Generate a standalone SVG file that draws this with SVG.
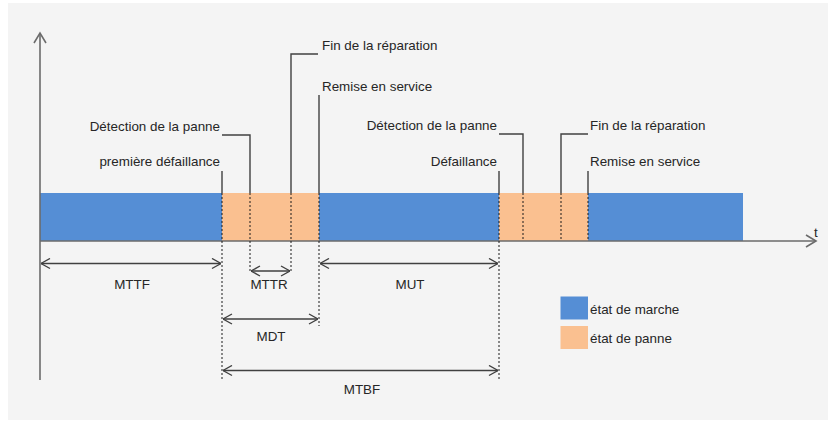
<svg xmlns="http://www.w3.org/2000/svg" width="835" height="425" viewBox="0 0 835 425">
<style>
text{font-family:"Liberation Sans",Arial,sans-serif;font-size:13.4px;fill:#262626}
.ax{stroke:#6b6b6b;stroke-width:1.6;fill:none}
.ld{stroke:#404040;stroke-width:1.4;fill:none}
.dt{stroke:#1a1a1a;stroke-width:1;stroke-dasharray:2,2;fill:none}
.dim{stroke:#404040;stroke-width:1.4;fill:none;marker-start:url(#ah);marker-end:url(#ah)}
.up{fill:#558ed5}
.dn{fill:#fac090}
</style>
<defs>
<marker id="ah" viewBox="0 0 10 12" refX="10" refY="6" markerWidth="10" markerHeight="12" markerUnits="userSpaceOnUse" orient="auto-start-reverse">
<path d="M1,1 L10,6 L1,11" fill="none" stroke="#404040" stroke-width="1.4"/>
</marker>
</defs>
<rect x="0" y="0" width="835" height="425" fill="#ffffff"/>
<rect x="8" y="3" width="820" height="417" fill="#f4f4f4"/>
<g id="bar">
<rect class="up" x="40" y="193" width="182" height="48"/>
<rect class="dn" x="222" y="193" width="97" height="48"/>
<rect class="up" x="319" y="193" width="180" height="48"/>
<rect class="dn" x="499" y="193" width="89" height="48"/>
<rect class="up" x="588" y="193" width="155" height="48"/>
</g>
<g id="axes">
<path class="ax" d="M40,380 V33"/>
<path class="ax" d="M34,43 L40,33 L46,43"/>
<path class="ax" d="M40,241 H816"/>
<path class="ax" d="M806,235 L816,241 L806,247"/>
<text x="814" y="237" font-size="14">t</text>
</g>
<g id="connectors">
<path class="ld" d="M222,171 V193"/>
<path class="ld" d="M222,135 H250 V193"/>
<path class="ld" d="M318,54 H291 V193"/>
<path class="ld" d="M319,95 V193"/>
<path class="ld" d="M499,171 V193"/>
<path class="ld" d="M499,134 H523 V193"/>
<path class="ld" d="M588,134 H561 V193"/>
<path class="ld" d="M588,171 V193"/>
<path class="dt" d="M222,193 V380"/>
<path class="dt" d="M250,193 V273"/>
<path class="dt" d="M291,193 V273"/>
<path class="dt" d="M319,193 V326"/>
<path class="dt" d="M499,193 V380"/>
<path class="dt" d="M523,193 V241"/>
<path class="dt" d="M561,193 V241"/>
<path class="dt" d="M588,193 V241"/>
<path class="dim" d="M41,263.5 H221"/>
<path class="dim" d="M251,271 H290"/>
<path class="dim" d="M320,263.5 H498"/>
<path class="dim" d="M223,319 H318"/>
<path class="dim" d="M223,370.5 H498"/>
</g>
<g id="labels-events">
<text x="322" y="50">Fin de la réparation</text>
<text x="322" y="91">Remise en service</text>
<text x="220" y="131" text-anchor="end">Détection de la panne</text>
<text x="220" y="165.5" text-anchor="end">première défaillance</text>
<text x="497" y="130" text-anchor="end">Détection de la panne</text>
<text x="497" y="166" text-anchor="end">Défaillance</text>
<text x="590" y="130">Fin de la réparation</text>
<text x="590" y="166">Remise en service</text>
</g>
<g id="labels-durations">
<text x="132" y="289" text-anchor="middle">MTTF</text>
<text x="269" y="289" text-anchor="middle">MTTR</text>
<text x="410" y="289" text-anchor="middle">MUT</text>
<text x="271" y="340.5" text-anchor="middle">MDT</text>
<text x="362" y="394" text-anchor="middle">MTBF</text>
</g>
<g id="legend">
<rect class="up" x="560.5" y="296.5" width="27.5" height="23"/>
<rect class="dn" x="560.5" y="326" width="27.5" height="23"/>
<text x="590" y="314">état de marche</text>
<text x="590" y="343">état de panne</text>
</g>
</svg>
